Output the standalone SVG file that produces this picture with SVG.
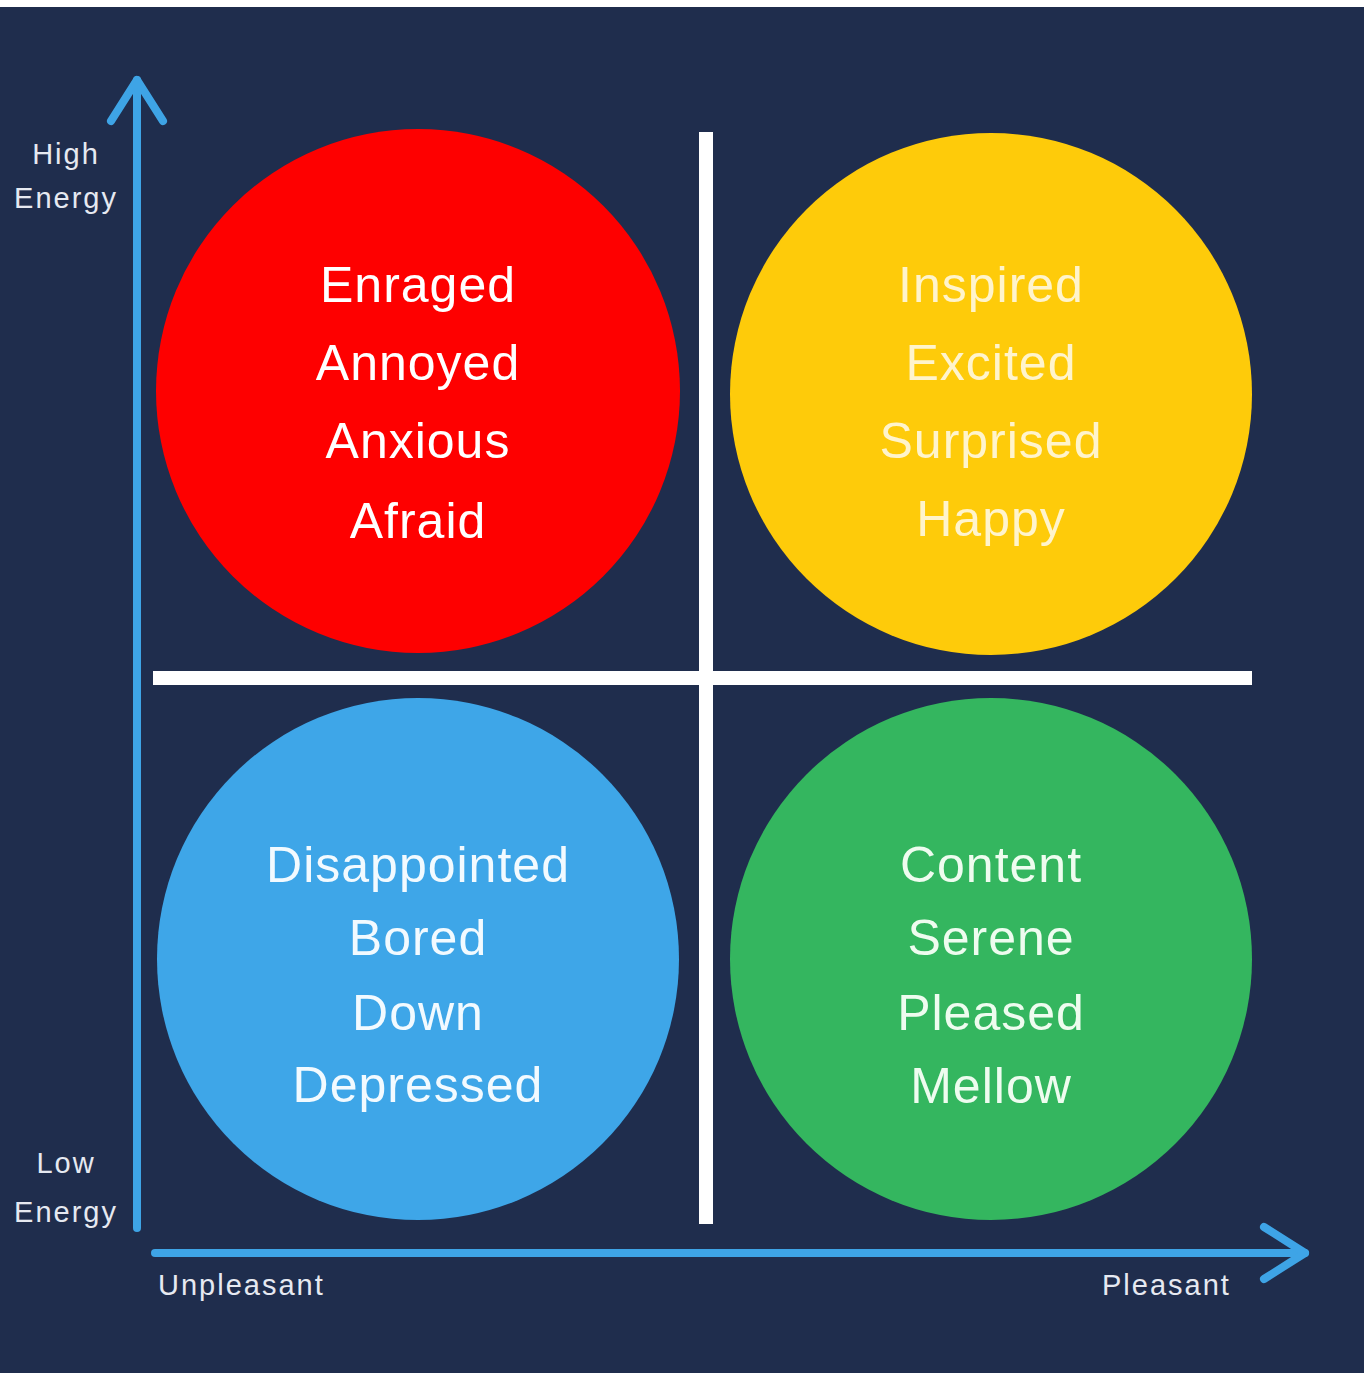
<svg xmlns="http://www.w3.org/2000/svg" width="1364" height="1373" viewBox="0 0 1364 1373">
  <style>
    .axis { stroke: #3ea4e6; stroke-width: 8; fill: none; stroke-linecap: round; stroke-linejoin: round; }
    .divider { fill: #ffffff; }
    .mood { font-family: "Liberation Sans", Arial, sans-serif; font-size: 50px; letter-spacing: 1px; text-anchor: middle; fill: #ffffff; }
    .label { font-family: "Liberation Sans", Arial, sans-serif; font-size: 29px; letter-spacing: 2px; fill: #e6e9f1; }
  </style>
  <defs>
    <marker id="chevron" viewBox="-46 -32 52 64" markerWidth="52" markerHeight="64" refX="0" refY="0" orient="auto" markerUnits="userSpaceOnUse">
      <path d="M -41 -26 L 0 0 L -41 26" fill="none" stroke="#3ea4e6" stroke-width="8" stroke-linecap="round" stroke-linejoin="round"/>
    </marker>
  </defs>

  <!-- backdrop -->
  <rect x="0" y="0" width="1364" height="1373" fill="#1f2d4d"/>
  <rect x="0" y="0" width="1364" height="7" fill="#ffffff"/>

  <!-- quadrant dividers -->
  <g id="dividers">
    <rect class="divider" x="699" y="132" width="14" height="1092"/>
    <rect class="divider" x="153" y="671" width="1099" height="14"/>
  </g>

  <!-- axes -->
  <g id="connectors">
    <path class="axis" d="M 137 1228 L 137 80" marker-end="url(#chevron)"/>
    <path class="axis" d="M 155 1253 L 1305 1253" marker-end="url(#chevron)"/>
  </g>

  <!-- high energy, unpleasant -->
  <g id="node-red">
    <circle cx="418" cy="391" r="262" fill="#fe0000"/>
    <text class="mood" x="418" y="302">Enraged</text>
    <text class="mood" x="418" y="380">Annoyed</text>
    <text class="mood" x="418" y="458">Anxious</text>
    <text class="mood" x="418" y="538">Afraid</text>
  </g>

  <!-- high energy, pleasant -->
  <g id="node-yellow">
    <circle cx="991" cy="394" r="261" fill="#fecb0a"/>
    <text class="mood" x="991" y="302" style="fill:#fff4cc">Inspired</text>
    <text class="mood" x="991" y="380" style="fill:#fff4cc">Excited</text>
    <text class="mood" x="991" y="458" style="fill:#fff4cc">Surprised</text>
    <text class="mood" x="991" y="536" style="fill:#fff4cc">Happy</text>
  </g>

  <!-- low energy, unpleasant -->
  <g id="node-blue">
    <circle cx="418" cy="959" r="261" fill="#3ea6e8"/>
    <text class="mood" x="418" y="882" style="fill:#f2faff">Disappointed</text>
    <text class="mood" x="418" y="955" style="fill:#f2faff">Bored</text>
    <text class="mood" x="418" y="1030" style="fill:#f2faff">Down</text>
    <text class="mood" x="418" y="1102" style="fill:#f2faff">Depressed</text>
  </g>

  <!-- low energy, pleasant -->
  <g id="node-green">
    <circle cx="991" cy="959" r="261" fill="#34b65f"/>
    <text class="mood" x="991" y="882" style="fill:#eefcef">Content</text>
    <text class="mood" x="991" y="955" style="fill:#eefcef">Serene</text>
    <text class="mood" x="991" y="1030" style="fill:#eefcef">Pleased</text>
    <text class="mood" x="991" y="1103" style="fill:#eefcef">Mellow</text>
  </g>

  <!-- axis labels -->
  <g id="labels">
    <text class="label" x="66" y="164" text-anchor="middle">High</text>
    <text class="label" x="66" y="208" text-anchor="middle">Energy</text>
    <text class="label" x="66" y="1173" text-anchor="middle">Low</text>
    <text class="label" x="66" y="1222" text-anchor="middle">Energy</text>
    <text class="label" x="158" y="1295">Unpleasant</text>
    <text class="label" x="1102" y="1295">Pleasant</text>
  </g>
</svg>
